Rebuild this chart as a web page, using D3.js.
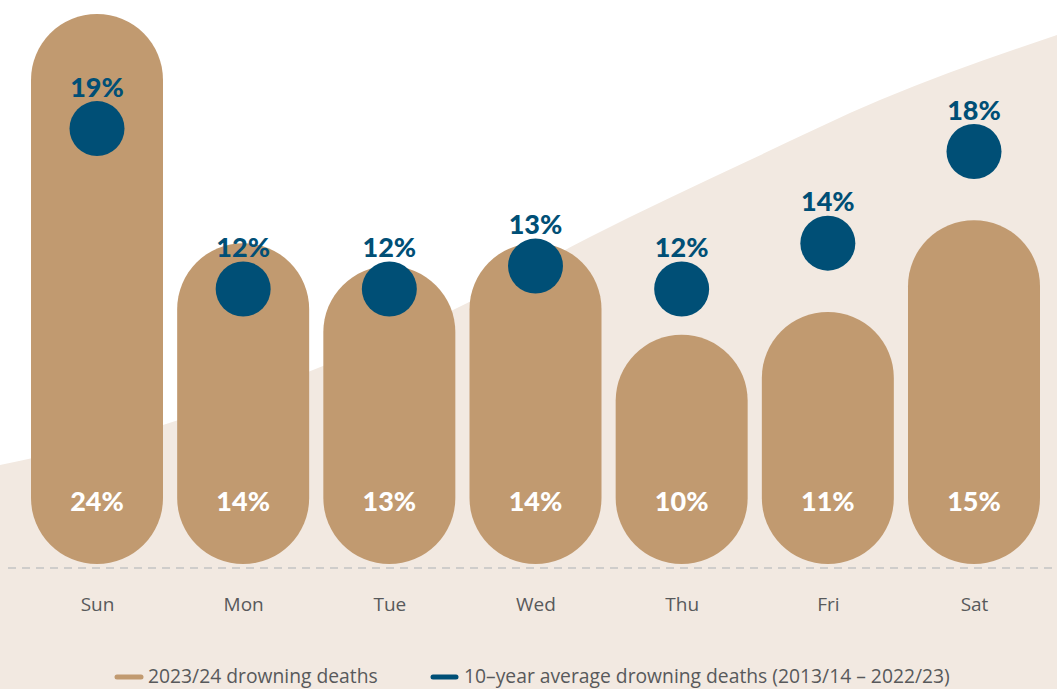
<!DOCTYPE html>
<html>
<head>
<meta charset="utf-8">
<script src="https://cdn.jsdelivr.net/npm/d3@7"></script>
<style>
  html, body { margin: 0; padding: 0; background: #ffffff; }
  svg { display: block; }
</style>
</head>
<body>
<svg id="chart" width="1057" height="689"></svg>
<script>
const days = ["Sun", "Mon", "Tue", "Wed", "Thu", "Fri", "Sat"];
const deaths2324 = [24, 14, 13, 14, 10, 11, 15];
const avg10yr = [19, 12, 12, 13, 12, 14, 18];
const legendLabels = ["2023/24 drowning deaths", "10\u2013year average drowning deaths (2013/14 \u2013 2022/23)"];

const W = 1057, H = 689;
const barColor = "#c19a70", dotColor = "#004f76", bgColor = "#f2e9e1";
const svg = d3.select("#chart");

// decorative background wave
const wave = [[0,465],[163,425],[308,372],[453,310],[590,237],[750,160],[880,100],[1057,35]];
const area = d3.area().x(d => d[0]).y0(H).y1(d => d[1]).curve(d3.curveMonotoneX);
svg.append("path").attr("d", area(wave)).attr("fill", bgColor);

const x = d3.scalePoint().domain(days).range([97, 974]);
const y = d3.scaleLinear().domain([0, 24]).range([564, 14]);
const bw = 132;

// baseline dashed
svg.append("line").attr("x1", 8).attr("x2", W).attr("y1", 568).attr("y2", 568)
  .attr("stroke", "#c3c3c3").attr("stroke-width", 1.6).attr("stroke-dasharray", "8,6");

// bars
svg.selectAll("rect.bar").data(days).join("rect")
  .attr("class", "bar")
  .attr("x", d => x(d) - bw / 2)
  .attr("width", bw)
  .attr("y", (d, i) => y(deaths2324[i]))
  .attr("height", (d, i) => y(0) - y(deaths2324[i]))
  .attr("rx", bw / 2).attr("ry", bw / 2)
  .attr("fill", barColor);

// bar labels
svg.selectAll("text.blab").data(days).join("text")
  .attr("class", "blab")
  .attr("x", d => x(d)).attr("y", 511)
  .attr("text-anchor", "middle")
  .attr("font-family", "Lato, sans-serif").attr("font-weight", 900).attr("font-size", 27)
  .attr("fill", "#ffffff")
  .text((d, i) => deaths2324[i] + "%");

// dots
svg.selectAll("circle.dot").data(days).join("circle")
  .attr("class", "dot")
  .attr("cx", d => x(d)).attr("cy", (d, i) => y(avg10yr[i]))
  .attr("r", 27.5).attr("fill", dotColor);

svg.selectAll("text.dlab").data(days).join("text")
  .attr("class", "dlab")
  .attr("x", d => x(d)).attr("y", (d, i) => y(avg10yr[i]) - 32)
  .attr("text-anchor", "middle")
  .attr("font-family", "Lato, sans-serif").attr("font-weight", 900).attr("font-size", 27)
  .attr("fill", dotColor)
  .text((d, i) => avg10yr[i] + "%");

// x axis labels
const xAxis = d3.axisBottom(x).tickSize(0).tickPadding(0);
const gx = svg.append("g").attr("transform", "translate(0,597)").call(xAxis);
gx.select(".domain").remove();
gx.selectAll("text").attr("font-family", "'Open Sans', sans-serif").attr("font-size", 19)
  .attr("fill", "#58595b");

// legend
const leg = svg.append("g");
const items = [
  {x1: 117, x2: 141, tx: 148, color: barColor, label: legendLabels[0]},
  {x1: 433, x2: 456, tx: 464, color: dotColor, label: legendLabels[1]}
];
items.forEach(it => {
  leg.append("line").attr("x1", it.x1).attr("x2", it.x2).attr("y1", 677).attr("y2", 677)
    .attr("stroke", it.color).attr("stroke-width", 5).attr("stroke-linecap", "round");
  leg.append("text").attr("x", it.tx).attr("y", 683)
    .attr("font-family", "'Open Sans', sans-serif").attr("font-size", 19.3)
    .attr("fill", "#58595b").text(it.label);
});
</script>
</body>
</html>
